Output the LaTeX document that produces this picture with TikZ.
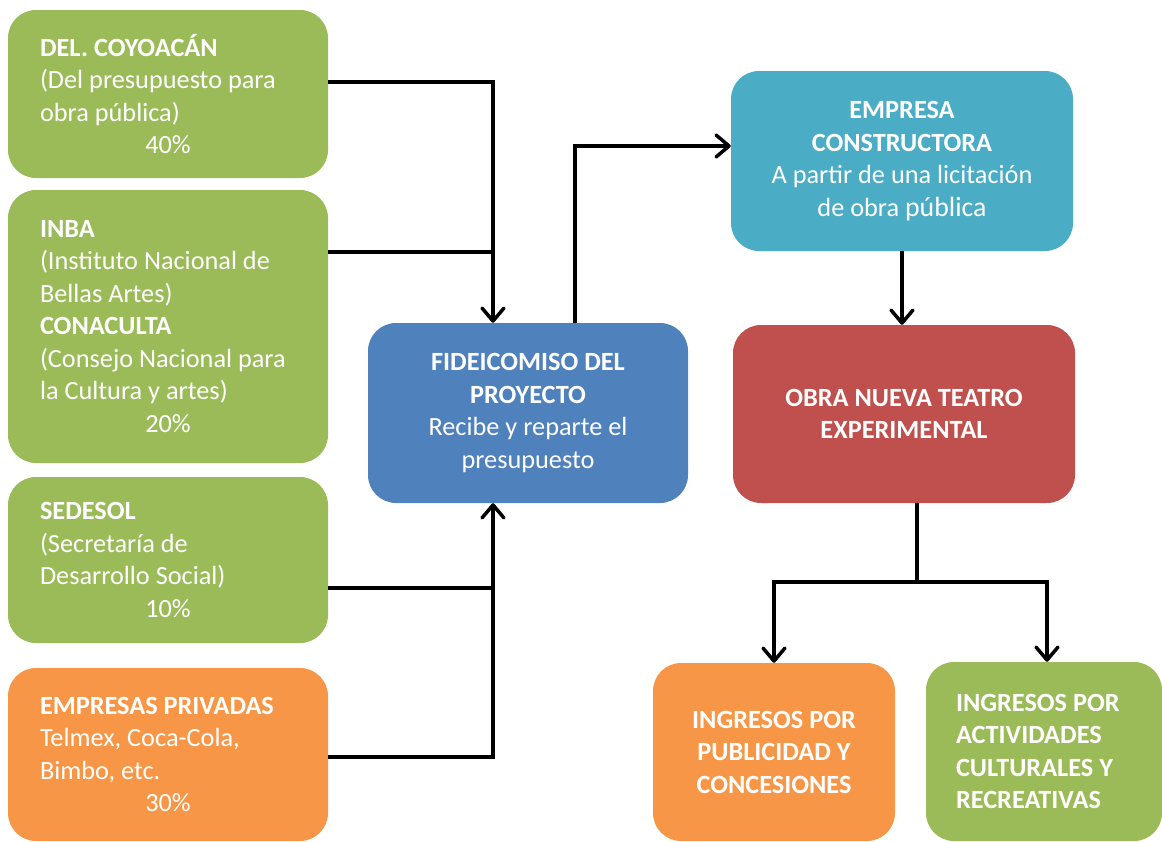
\documentclass[tikz,border=0pt]{standalone}
\usepackage{fontspec}
\setmainfont{Carlito}
\usepackage{xcolor}
\usetikzlibrary{arrows.meta}

\definecolor{verde}{HTML}{9BBB59}
\definecolor{azul}{HTML}{4F81BD}
\definecolor{turquesa}{HTML}{4BACC6}
\definecolor{rojo}{HTML}{C0504D}
\definecolor{naranja}{HTML}{F79646}

% porcentaje centrado dentro de una caja alineada a la izquierda
\newcommand{\pct}[1]{\makebox[\hsize]{#1\%}}

\begin{document}
\begin{tikzpicture}[x=1pt,y=-1pt,
  caja/.style={rounded corners=28pt,text=white,inner ysep=0pt,
    font=\fontsize{26.3}{32.5}\selectfont},
  fuente/.style={caja,text width=256pt,inner xsep=32pt,align=flush left,
    minimum width=320pt},
  linea/.style={line width=3.5pt,draw=black},
  flecha/.style={linea,-{Straight Barb[length=13pt,width=22pt,round]}}]
\useasboundingbox (0,0) rectangle (1162,841);
\clip (0,0) rectangle (1162,841);

% Aportaciones
\node[fuente,fill=verde,minimum height=168pt] (coy) at (168,94)
  {\textbf{DEL. COYOACÁN}\\(Del presupuesto para\\obra pública)\\\pct{40}};
\node[fuente,fill=verde,minimum height=273pt] (inba) at (168,326.5)
  {\textbf{INBA}\\(Instituto Nacional de\\Bellas Artes)\\\textbf{CONACULTA}\\(Consejo Nacional para\\la Cultura y artes)\\\pct{20}};
\node[fuente,fill=verde,minimum height=166pt] (sedesol) at (168,560)
  {\textbf{SEDESOL}\\(Secretaría de\\Desarrollo Social)\\\pct{10}};
\node[fuente,fill=naranja,minimum height=173pt] (priv) at (168,754.5)
  {\textbf{EMPRESAS PRIVADAS}\\Telmex, Coca-Cola,\\Bimbo, etc.\\\pct{30}};

% Fideicomiso y obra
\node[caja,fill=azul,align=flush center,minimum width=320pt,minimum height=180pt] (fid) at (528,413)
  {\textbf{FIDEICOMISO DEL}\\\textbf{PROYECTO}\\Recibe y reparte el\\presupuesto};
\node[caja,fill=turquesa,align=flush center,minimum width=342pt,minimum height=180pt] (cons) at (902,161)
  {\textbf{EMPRESA}\\\textbf{CONSTRUCTORA}\\A partir de una licitación\\de obra {\fontsize{27.8}{32.5}\selectfont pública}};
\node[caja,fill=rojo,align=flush center,minimum width=342pt,minimum height=178pt] (obra) at (904,414)
  {\textbf{OBRA NUEVA TEATRO}\\\textbf{EXPERIMENTAL}};

% Ingresos
\node[caja,fill=naranja,align=flush center,minimum width=242pt,minimum height=178pt] (pub) at (774,752)
  {\textbf{INGRESOS POR}\\\textbf{PUBLICIDAD Y}\\\textbf{CONCESIONES}};
\node[caja,fill=verde,text width=176pt,inner xsep=30pt,align=flush left,minimum height=179pt] (act) at (1044,751.5)
  {\textbf{INGRESOS POR}\\\textbf{ACTIVIDADES}\\\textbf{CULTURALES Y}\\\textbf{RECREATIVAS}};

% Conectores
\draw[flecha] ([yshift=12pt]coy.east) -| ([xshift=-35pt]fid.north);
\draw[linea] ([yshift=74.5pt]inba.east) -- ++(166,0);
\draw[linea] ([yshift=-28pt]sedesol.east) -- ++(166,0);
\draw[flecha] ([yshift=-2.5pt]priv.east) -| ([xshift=-35pt]fid.south);
\draw[flecha] ([xshift=47pt]fid.north) |- ([yshift=15pt]cons.west);
\draw[flecha] (cons.south) -- (cons.south |- obra.north);
\draw[linea] ([xshift=13pt]obra.south) -- ++(0,79) coordinate (rama);
\draw[flecha] (rama) -| (pub.north);
\draw[flecha] (rama) -| ([xshift=3pt]act.north);
\end{tikzpicture}
\end{document}
